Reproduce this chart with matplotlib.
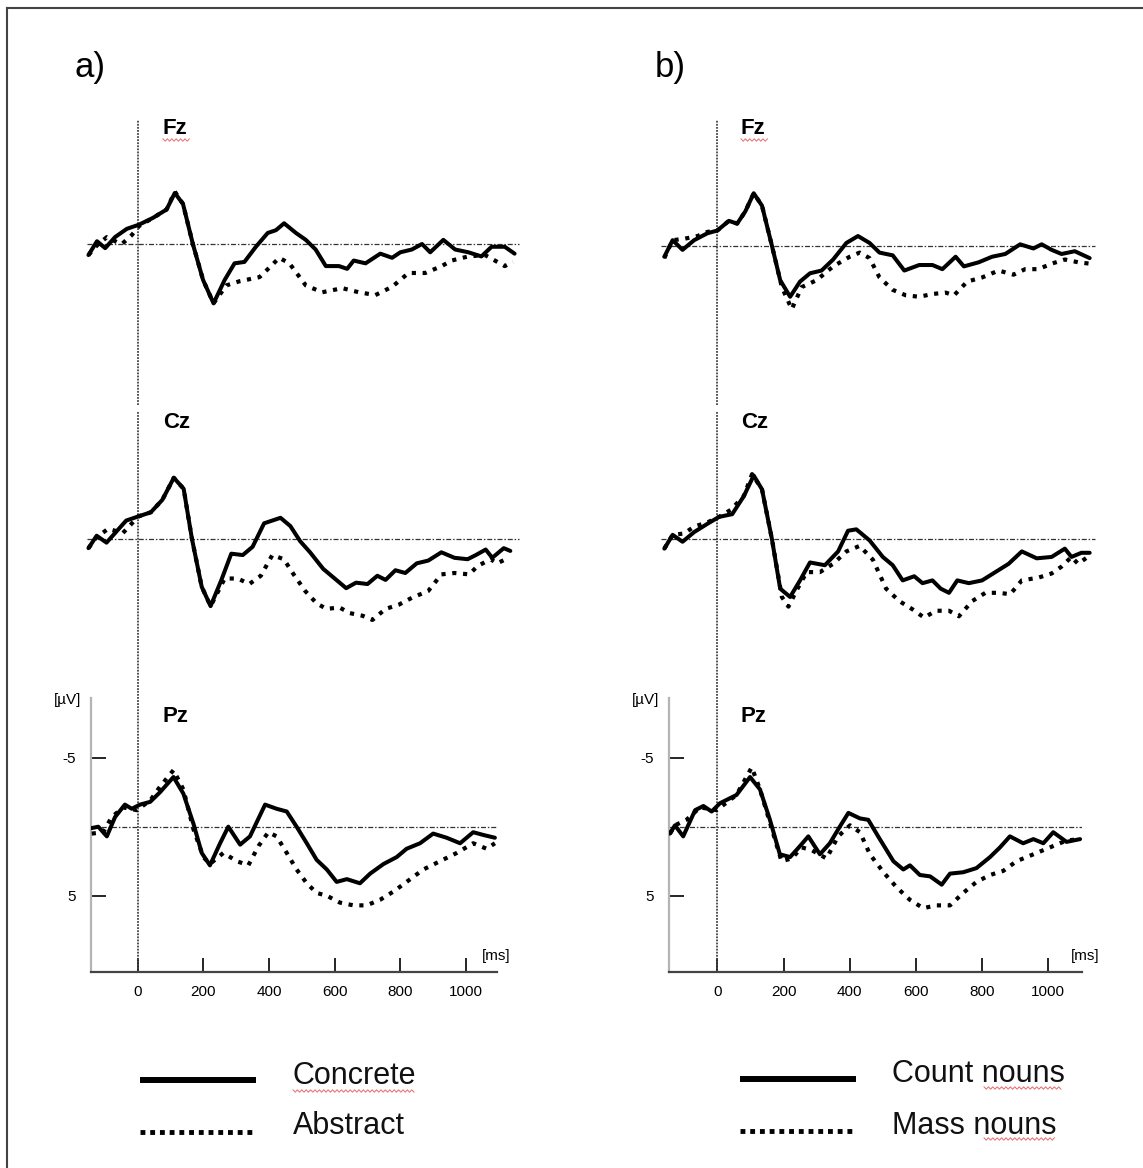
import matplotlib
matplotlib.use('Agg')
import matplotlib.pyplot as plt
from matplotlib.lines import Line2D
import numpy as np

plt.rcParams['font.family'] = ['Liberation Sans', 'DejaVu Sans']

W, H = 1143, 1168

# ---- data (ms, microvolt; negative plotted up) ----
# panel a: concrete vs abstract
fz_con_t = [-150, -124, -99, -69, -33, 4, 47, 88, 113, 138, 168, 199, 231, 265, 295, 325, 360, 396, 421, 446,
            482, 512, 542, 573, 613, 638, 658, 694, 739, 775, 800, 835, 866, 891, 931, 967, 1007, 1047, 1078, 1118, 1148]
fz_con_v = [0.8, -0.2, 0.3, -0.5, -1.1, -1.4, -1.9, -2.5, -3.7, -2.9, 0.0, 2.6, 4.3, 2.6, 1.4, 1.3, 0.2, -0.8, -1.0, -1.5,
            -0.8, -0.3, 0.4, 1.6, 1.6, 1.8, 1.2, 1.4, 0.7, 1.0, 0.6, 0.4, 0.0, 0.6, -0.3, 0.4, 0.6, 0.9, 0.2, 0.2, 0.7]
fz_abs_t = [-150, -124, -94, -60, -48, -18, 4, 47, 88, 113, 138, 168, 199, 231, 270, 310, 371, 406, 431, 462,
            512, 562, 623, 674, 724, 775, 825, 876, 926, 956, 1007, 1058, 1118, 1143]
fz_abs_v = [0.8, 0.1, -0.5, -0.1, 0.0, -0.65, -1.3, -1.9, -2.5, -3.8, -2.9, 0.0, 2.6, 4.3, 3.0, 2.7, 2.4, 1.6, 1.0, 1.4,
            3.0, 3.5, 3.2, 3.5, 3.7, 3.1, 2.1, 2.1, 1.6, 1.2, 0.9, 0.8, 1.6, 1.3]

cz_con_t = [-150, -125, -95, -65, -35, 2, 40, 75, 110, 140, 165, 195, 222, 255, 285, 320, 350, 385, 435, 465,
            495, 525, 565, 605, 635, 665, 700, 730, 755, 785, 815, 850, 885, 925, 965, 1005, 1030, 1060, 1080, 1115, 1135]
cz_con_v = [0.7, -0.2, 0.3, -0.5, -1.3, -1.6, -1.9, -2.8, -4.4, -3.6, 0.0, 3.5, 4.9, 3.0, 1.1, 1.2, 0.6, -1.1, -1.5, -0.9,
            0.2, 1.0, 2.2, 3.0, 3.6, 3.2, 3.3, 2.7, 3.0, 2.3, 2.5, 1.8, 1.6, 1.0, 1.4, 1.5, 1.2, 0.8, 1.4, 0.7, 0.9]
cz_abs_t = [-150, -125, -90, -45, 2, 40, 75, 110, 140, 165, 195, 222, 265, 305, 340, 375, 410, 445, 475, 510,
            545, 575, 615, 645, 685, 715, 755, 795, 835, 885, 925, 965, 1010, 1035, 1075, 1095, 1130]
cz_abs_v = [0.7, -0.1, -0.7, -0.4, -1.6, -1.9, -2.8, -4.4, -3.6, 0.0, 3.5, 4.9, 2.9, 2.9, 3.3, 2.7, 1.2, 1.5, 2.6, 3.8,
            4.7, 5.1, 5.0, 5.4, 5.6, 5.9, 5.1, 4.8, 4.3, 3.8, 2.6, 2.5, 2.6, 2.0, 1.5, 1.8, 1.4]

pz_con_t = [-140, -120, -94, -69, -39, -18, 7, 38, 68, 109, 139, 170, 195, 220, 251, 276, 312, 342, 388, 423,
            454, 484, 515, 545, 576, 606, 637, 677, 708, 749, 789, 819, 860, 900, 941, 982, 1022, 1053, 1088]
pz_con_v = [0.1, 0.0, 0.7, -0.7, -1.6, -1.3, -1.6, -1.8, -2.5, -3.6, -2.4, -0.2, 1.9, 2.8, 1.2, 0.0, 1.3, 0.7, -1.6, -1.3,
            -1.1, 0.0, 1.2, 2.4, 3.1, 4.0, 3.8, 4.1, 3.4, 2.7, 2.2, 1.6, 1.2, 0.5, 0.8, 1.2, 0.4, 0.6, 0.8]
pz_abs_t = [-140, -105, -79, -44, -3, 38, 68, 109, 139, 170, 200, 220, 261, 302, 337, 368, 398, 423, 454, 484,
            515, 545, 576, 616, 657, 697, 738, 779, 819, 870, 921, 972, 1022, 1063, 1088]
pz_abs_v = [0.5, 0.4, -0.7, -1.4, -1.2, -1.9, -2.9, -4.1, -2.7, 0.2, 2.2, 2.7, 1.9, 2.5, 2.8, 1.4, 0.4, 0.7, 1.9, 3.1,
            4.1, 4.8, 5.0, 5.5, 5.7, 5.7, 5.3, 4.7, 4.0, 3.1, 2.5, 1.9, 1.2, 1.6, 1.2]

# panel b: count vs mass nouns
fz_cnt_t = [-160, -135, -105, -70, -30, 0, 35, 60, 85, 110, 135, 165, 190, 220, 250, 280, 315, 350, 390, 425,
            460, 490, 530, 565, 610, 650, 680, 720, 745, 790, 830, 870, 915, 955, 980, 1010, 1040, 1080, 1125]
fz_cnt_v = [0.8, -0.4, 0.3, -0.4, -0.9, -1.1, -1.8, -1.6, -2.5, -3.8, -2.9, 0.0, 2.5, 3.7, 2.6, 2.0, 1.8, 1.0, -0.2, -0.7,
            -0.2, 0.5, 0.7, 1.8, 1.4, 1.4, 1.7, 0.8, 1.5, 1.2, 0.8, 0.6, -0.1, 0.2, -0.1, 0.3, 0.6, 0.4, 0.9]
fz_mas_t = [-160, -135, -100, -60, -30, 0, 35, 60, 85, 110, 135, 165, 195, 225, 255, 300, 350, 400, 430, 460,
            490, 530, 570, 610, 650, 690, 715, 755, 800, 850, 895, 930, 970, 1010, 1050, 1090, 1125]
fz_mas_v = [0.9, -0.4, -0.5, -0.7, -1.0, -1.1, -1.8, -1.6, -2.5, -3.8, -2.9, 0.0, 3.0, 4.6, 3.0, 2.5, 1.5, 0.8, 0.5, 0.9,
            2.3, 3.2, 3.6, 3.7, 3.5, 3.4, 3.6, 2.6, 2.3, 1.8, 2.1, 1.7, 1.7, 1.3, 1.0, 1.2, 1.3]

cz_cnt_t = [-160, -135, -105, -70, -30, 5, 45, 80, 110, 135, 165, 190, 220, 250, 280, 325, 365, 395, 420, 460,
            500, 530, 560, 595, 620, 650, 675, 700, 725, 760, 800, 840, 880, 920, 965, 1010, 1050, 1070, 1100, 1125]
cz_cnt_v = [0.7, -0.3, 0.2, -0.5, -1.1, -1.6, -1.8, -3.1, -4.6, -3.6, 0.0, 3.6, 4.2, 3.0, 1.7, 1.9, 0.9, -0.6, -0.7, 0.1,
            1.3, 1.9, 3.0, 2.7, 3.2, 3.0, 3.6, 3.9, 3.0, 3.2, 3.0, 2.4, 1.8, 0.9, 1.4, 1.3, 0.7, 1.3, 1.0, 1.0]
cz_mas_t = [-160, -135, -100, -70, -30, 5, 40, 80, 105, 135, 165, 195, 215, 240, 270, 310, 350, 390, 430, 470,
            510, 550, 590, 625, 660, 700, 730, 770, 810, 850, 885, 920, 970, 1010, 1040, 1070, 1090, 1125]
cz_mas_v = [0.7, -0.3, -0.4, -0.9, -1.2, -1.6, -2.1, -3.1, -4.7, -3.6, 0.0, 4.2, 4.9, 3.7, 2.4, 2.4, 1.8, 0.9, 0.5, 1.5,
            3.6, 4.5, 5.1, 5.7, 5.2, 5.2, 5.6, 4.5, 3.9, 3.9, 4.0, 3.0, 2.8, 2.5, 2.0, 1.3, 1.8, 1.2]

pz_cnt_t = [-143, -128, -103, -67, -42, -17, 8, 58, 99, 129, 159, 189, 220, 250, 275, 310, 340, 370, 396, 431,
            456, 491, 532, 562, 582, 612, 643, 678, 703, 743, 783, 824, 854, 884, 924, 955, 985, 1015, 1055, 1096]
pz_cnt_v = [0.5, -0.1, 0.7, -1.2, -1.5, -1.1, -1.7, -2.3, -3.6, -2.7, -0.5, 2.0, 2.2, 1.4, 0.7, 2.0, 1.2, 0.0, -1.0, -0.6,
            -0.5, 0.9, 2.5, 3.1, 2.8, 3.5, 3.6, 4.2, 3.4, 3.3, 3.0, 2.2, 1.5, 0.7, 1.2, 0.9, 1.2, 0.4, 1.1, 0.9]
pz_mas_t = [-143, -128, -93, -52, -2, 58, 104, 129, 159, 194, 225, 255, 285, 330, 365, 401, 431, 461, 502, 542,
            582, 622, 663, 703, 743, 783, 824, 864, 904, 955, 1005, 1055, 1096]
pz_mas_v = [0.5, -0.1, -0.5, -1.4, -1.2, -2.3, -4.3, -2.7, -0.3, 2.5, 2.3, 1.5, 1.7, 2.3, 0.7, -0.1, 0.4, 2.0, 3.3, 4.4,
            5.3, 5.9, 5.7, 5.7, 4.8, 4.0, 3.5, 3.2, 2.5, 2.0, 1.5, 1.0, 0.9]

electrodes = ["Fz", "Cz", "Pz"]
x_ticks = [0, 200, 400, 600, 800, 1000]
y_ticks = [-5, 5]
legend_a = ["Concrete", "Abstract"]
legend_b = ["Count nouns", "Mass nouns"]

panels = [
    {"label": "a)", "legend": legend_a,
     "solid": [(fz_con_t, fz_con_v), (cz_con_t, cz_con_v), (pz_con_t, pz_con_v)],
     "dotted": [(fz_abs_t, fz_abs_v), (cz_abs_t, cz_abs_v), (pz_abs_t, pz_abs_v)]},
    {"label": "b)", "legend": legend_b,
     "solid": [(fz_cnt_t, fz_cnt_v), (cz_cnt_t, cz_cnt_v), (pz_cnt_t, pz_cnt_v)],
     "dotted": [(fz_mas_t, fz_mas_v), (cz_mas_t, cz_mas_v), (pz_mas_t, pz_mas_v)]},
]

# ---- layout in pixels ----
PX_UV = 13.8
layout = [
    {"x0": 137.7, "pxms": 0.3283, "lab_x": 75, "el_x": 163, "ms_x": 496, "uv_x": 68,
     "rows": [(80, 120, 525, 405, 244.0), (80, 412, 525, 690, 538.5), (90.7, 698, 497, 972, 826.7)],
     "hline": (-155, 1160), "leg_x": (140, 256), "leg_tx": 293, "leg_y": (1080, 1132), "leg_ty": (1076, 1126)},
    {"x0": 717.3, "pxms": 0.331, "lab_x": 655, "el_x": 741, "ms_x": 1085, "uv_x": 646,
     "rows": [(655, 120, 1105, 405, 245.7), (655, 412, 1105, 690, 539.0), (669.3, 698, 1081.5, 972, 826.7)],
     "hline": (-170, 1142), "leg_x": (740, 856), "leg_tx": 892, "leg_y": (1079, 1131), "leg_ty": (1074, 1126)},
]
el_y = [128, 423, 716]

fig = plt.figure(figsize=(W / 100, H / 100), dpi=100)


def fx(x):
    return x / W


def fy(y):
    return 1 - y / H


def squiggle(x0, x1, y):
    xs = np.arange(x0, x1 + 0.1, 2.2)
    ys = y + np.where(np.arange(len(xs)) % 2 == 0, -1.2, 1.2)
    fig.add_artist(Line2D(fx(xs), fy(ys), color="#e86a6a", lw=0.7))


wave_kw = dict(color="black", lw=2.9, solid_capstyle="round", solid_joinstyle="round")
dot_kw = dict(color="black", lw=3.0, linestyle=(0, (1, 1.6)), dash_capstyle="butt")

for p, lay in zip(panels, layout):
    for i, (l, t, r, b, base) in enumerate(lay["rows"]):
        ax = fig.add_axes([fx(l), fy(b), (r - l) / W, (b - t) / H])
        ax.set_xlim((l - lay["x0"]) / lay["pxms"], (r - lay["x0"]) / lay["pxms"])
        ax.set_ylim((b - base) / PX_UV, (t - base) / PX_UV)
        ax.patch.set_visible(False)

        st, sv = p["solid"][i]
        dt, dv = p["dotted"][i]
        ax.plot(dt, dv, **dot_kw, zorder=3)
        ax.plot(st, sv, **wave_kw, zorder=4)

        if i < 2:
            ax.axis("off")
            ax.plot(lay["hline"], [0, 0], color="#333333", lw=0.9, linestyle=(0, (4, 1.5, 1.2, 1.5)))
            ax.axvline(0, color="#444444", lw=1.3, linestyle=(0, (1, 0.7)))
        else:
            ax.axhline(0, color="#333333", lw=0.9, linestyle=(0, (4, 1.5, 1.2, 1.5)))
            ax.axvline(0, 0, 1 + 8 / (b - t), color="#444444", lw=1.3, linestyle=(0, (1, 0.7)), clip_on=False)
            for s in ("top", "right"):
                ax.spines[s].set_visible(False)
            ax.spines["left"].set_color("#b4b4b4")
            ax.spines["left"].set_linewidth(1.6)
            ax.spines["bottom"].set_color("#444444")
            ax.spines["bottom"].set_linewidth(1.6)
            ax.set_xticks(x_ticks)
            ax.set_xticklabels([str(v) for v in x_ticks])
            ax.set_yticks(y_ticks)
            ax.set_yticklabels([str(v) for v in y_ticks])
            ax.tick_params(axis="x", direction="in", length=10, width=1.2, pad=9, labelsize=11)
            ax.tick_params(axis="y", direction="in", length=11, width=1.2, pad=11, labelsize=11)
            fig.text(fx(lay["ms_x"]), fy(956), "[ms]", ha="center", va="center", fontsize=11)
            fig.text(fx(lay["uv_x"]), fy(700), "[µV]", ha="center", va="center", fontsize=11)

        fig.text(fx(lay["el_x"]), fy(el_y[i]), electrodes[i], ha="left", va="center",
                 fontsize=16, fontweight="bold")

    squiggle(lay["el_x"], lay["el_x"] + 27, el_y[0] + 12)

    fig.text(fx(lay["lab_x"]), fy(67), p["label"], ha="left", va="center", fontsize=25)

    # legend
    lx0, lx1 = lay["leg_x"]
    fig.add_artist(Line2D([fx(lx0), fx(lx1)], [fy(lay["leg_y"][0])] * 2, color="black", lw=4.3,
                          solid_capstyle="butt"))
    fig.add_artist(Line2D([fx(lx0), fx(lx1)], [fy(lay["leg_y"][1])] * 2, color="black", lw=3.5,
                          linestyle=(0, (1, 1.0)), dash_capstyle="butt"))
    for k, name in enumerate(p["legend"]):
        fig.text(fx(lay["leg_tx"]), fy(lay["leg_ty"][k]), name, ha="left", va="center",
                 fontsize=22, color="#111111")

# spell-check squiggles under legend words
squiggle(293, 414, 1091)
squiggle(984, 1063, 1088)
squiggle(984, 1055, 1139)

# outer frame (top and left edges)
fig.add_artist(Line2D([fx(7), fx(7)], [fy(8), 0], color="#444444", lw=1.5))
fig.add_artist(Line2D([fx(7), 1], [fy(8), fy(8)], color="#444444", lw=1.5))

fig.savefig("out.png", dpi=100)
